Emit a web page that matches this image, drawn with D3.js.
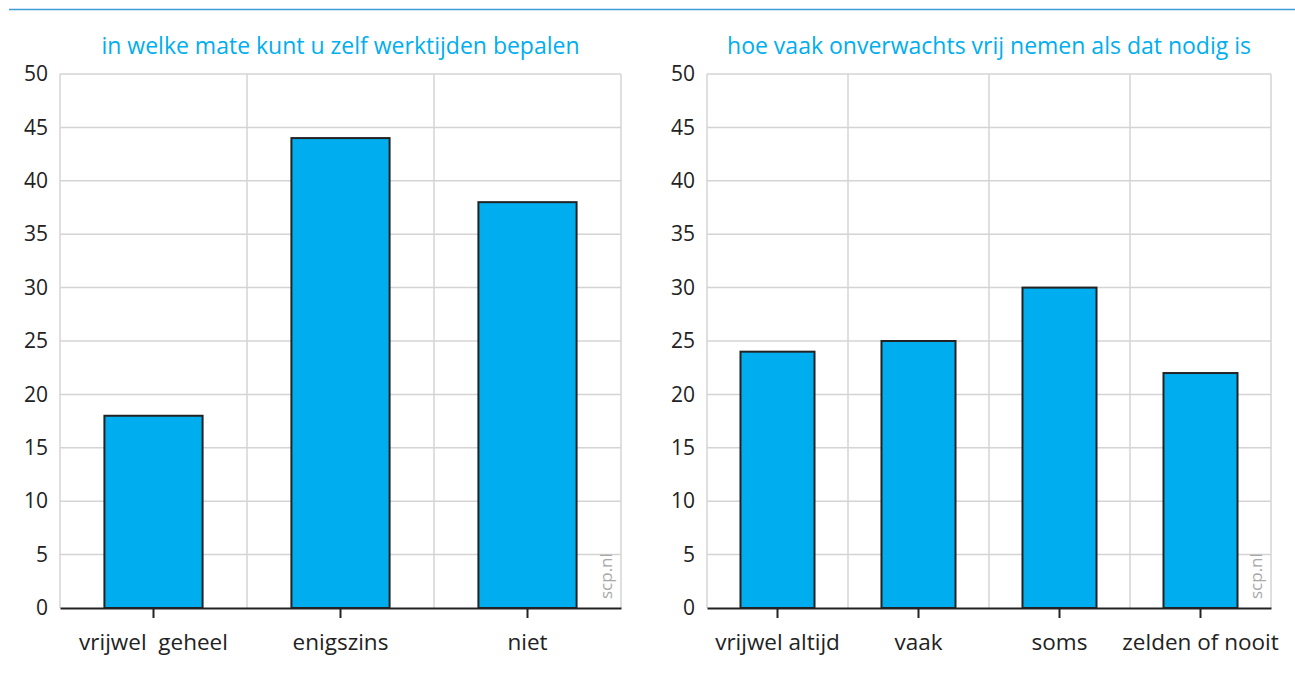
<!DOCTYPE html>
<html>
<head>
<meta charset="utf-8">
<script src="https://cdn.jsdelivr.net/npm/d3@7"></script>
<style>
  body { margin: 0; background: #fff; }
  svg { display: block; }
  text { font-family: "Open Sans", "Noto Sans", sans-serif; }
</style>
</head>
<body>
<svg id="chart" width="1295" height="680"></svg>
<script>
const leftTitle = "in welke mate kunt u zelf werktijden bepalen";
const leftCategories = ["vrijwel  geheel", "enigszins", "niet"];
const leftValues = [18, 44, 38];

const rightTitle = "hoe vaak onverwachts vrij nemen als dat nodig is";
const rightCategories = ["vrijwel altijd", "vaak", "soms", "zelden of nooit"];
const rightValues = [24, 25, 30, 22];

const yTicks = [0, 5, 10, 15, 20, 25, 30, 35, 40, 45, 50];
const watermark = "scp.nl";

const svg = d3.select("#chart");

svg.append("line")
  .attr("x1", 9).attr("x2", 1295)
  .attr("y1", 9.5).attr("y2", 9.5)
  .attr("stroke", "#3d9bd6").attr("stroke-width", 1.5);

function panel(cfg) {
  const { x0, x1, title, categories, values } = cfg;
  const top = 74, bottom = 608;
  const g = svg.append("g");
  const x = d3.scaleBand().domain(categories).range([x0, x1]).paddingInner(0).paddingOuter(0);
  const y = d3.scaleLinear().domain([0, 50]).range([bottom, top]);

  g.append("g").selectAll("line").data(yTicks.filter(d => d > 0)).join("line")
    .attr("x1", x0).attr("x2", x1)
    .attr("y1", d => y(d)).attr("y2", d => y(d))
    .attr("stroke", "#d4d4d4").attr("stroke-width", 1.5);

  const bounds = categories.map(c => x(c)).concat([x1]);
  g.append("g").selectAll("line").data(bounds).join("line")
    .attr("x1", d => d).attr("x2", d => d)
    .attr("y1", top).attr("y2", bottom)
    .attr("stroke", "#d4d4d4").attr("stroke-width", 1.5);

  g.append("text")
    .attr("transform", `translate(${x1 - 9},${bottom - 9}) rotate(-90)`)
    .attr("font-size", 17).attr("fill", "#a8a8a8")
    .text(watermark);

  const bw = x.bandwidth() * 0.525;
  g.append("g").selectAll("rect").data(values).join("rect")
    .attr("x", (d, i) => x(categories[i]) + (x.bandwidth() - bw) / 2)
    .attr("width", bw)
    .attr("y", d => y(d))
    .attr("height", d => y(0) - y(d))
    .attr("fill", "#00aeef")
    .attr("stroke", "#222").attr("stroke-width", 2);

  const xa = g.append("g").attr("transform", `translate(0,${bottom})`)
    .call(d3.axisBottom(x).tickSizeInner(10).tickSizeOuter(0).tickPadding(16));
  xa.select(".domain").attr("stroke", "#222").attr("stroke-width", 2);
  xa.selectAll(".tick line").attr("stroke", "#222").attr("stroke-width", 2);
  xa.selectAll(".tick text").attr("font-size", 22.5).attr("fill", "#222")
    .attr("font-family", "\"Open Sans\", \"Noto Sans\", sans-serif")
    .style("white-space", "pre").attr("xml:space", "preserve");

  const ya = g.append("g").attr("transform", `translate(${x0},0)`)
    .call(d3.axisLeft(y).tickValues(yTicks).tickSize(0).tickPadding(12));
  ya.select(".domain").remove();
  ya.selectAll(".tick text").attr("font-size", 21).attr("fill", "#222")
    .attr("font-family", "\"Open Sans\", \"Noto Sans\", sans-serif");

  g.append("text")
    .attr("x", (x0 + x1) / 2).attr("y", 54)
    .attr("text-anchor", "middle")
    .attr("font-size", 23).attr("fill", "#00aeef")
    .text(title);
}

panel({ x0: 60, x1: 621, title: leftTitle, categories: leftCategories, values: leftValues });
panel({ x0: 707, x1: 1271, title: rightTitle, categories: rightCategories, values: rightValues });
</script>
</body>
</html>
